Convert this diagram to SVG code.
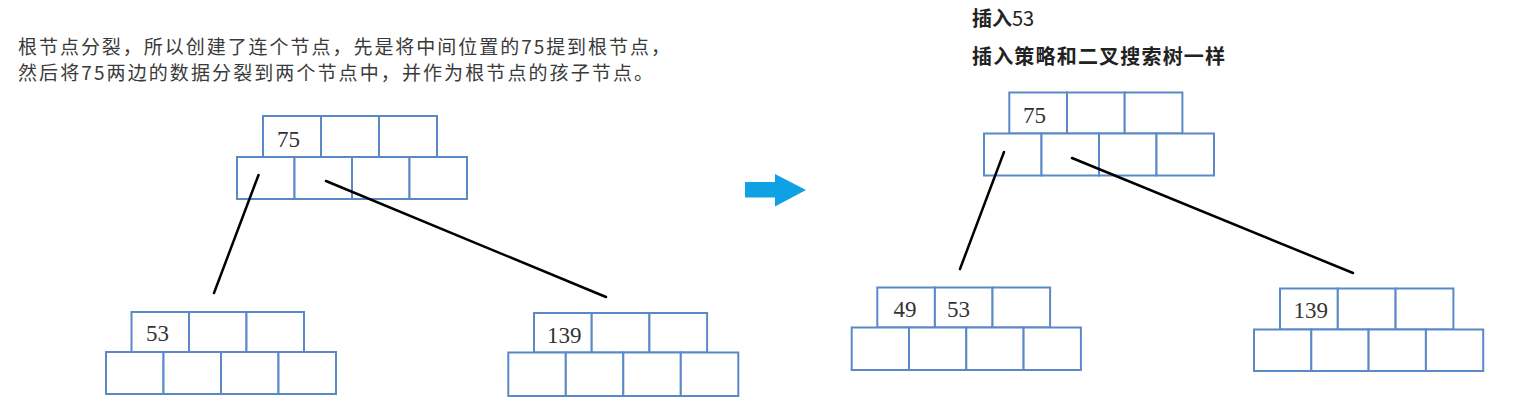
<svg xmlns="http://www.w3.org/2000/svg" width="1527" height="412" viewBox="0 0 1527 412">
<style>
.cell{fill:#ffffff;stroke:#5b89c8;stroke-width:2}
.num{font-family:"Liberation Serif","Times New Roman",serif;font-size:23px;fill:#333333}
.para{font-family:"Noto Sans CJK SC","Noto Sans",sans-serif;font-size:19px;fill:#3a3a3a}
.title{font-family:"Noto Sans CJK SC","Noto Sans",sans-serif;font-size:20px;fill:#222222}
.b{font-weight:bold}
.edge{stroke:#000000;stroke-width:2.5;fill:none;stroke-linecap:round}
</style>
<rect width="1527" height="412" fill="#ffffff"/>
<g id="texts">
<text class="para" x="18" y="54" textLength="652" lengthAdjust="spacing">根节点分裂，所以创建了连个节点，先是将中间位置的75提到根节点，</text>
<text class="para" x="18" y="80" textLength="635" lengthAdjust="spacing">然后将75两边的数据分裂到两个节点中，并作为根节点的孩子节点。</text>
<text class="title" x="972" y="26"><tspan class="b">插入</tspan>53</text>
<text class="title b" x="972" y="64" textLength="253" lengthAdjust="spacing">插入策略和二叉搜索树一样</text>
</g>
<g id="left-root">
<rect class="cell" x="263" y="116" width="58" height="41"/>
<rect class="cell" x="321" y="116" width="58" height="41"/>
<rect class="cell" x="379" y="116" width="58" height="41"/>
<rect class="cell" x="237" y="157" width="57.5" height="42"/>
<rect class="cell" x="294.5" y="157" width="57.5" height="42"/>
<rect class="cell" x="352" y="157" width="57.5" height="42"/>
<rect class="cell" x="409.5" y="157" width="57.5" height="42"/>
<text class="num" x="277" y="147">75</text>
</g>
<g id="left-child-53">
<rect class="cell" x="131.5" y="312" width="57.5" height="40"/>
<rect class="cell" x="189" y="312" width="57.5" height="40"/>
<rect class="cell" x="246.5" y="312" width="57.5" height="40"/>
<rect class="cell" x="106" y="352" width="57.5" height="42"/>
<rect class="cell" x="163.5" y="352" width="57.5" height="42"/>
<rect class="cell" x="221" y="352" width="57.5" height="42"/>
<rect class="cell" x="278.5" y="352" width="57.5" height="42"/>
<text class="num" x="146" y="341">53</text>
</g>
<g id="left-child-139">
<rect class="cell" x="534" y="313" width="57.7" height="39.5"/>
<rect class="cell" x="591.7" y="313" width="57.7" height="39.5"/>
<rect class="cell" x="649.4" y="313" width="57.7" height="39.5"/>
<rect class="cell" x="508.3" y="352.5" width="57.5" height="43.5"/>
<rect class="cell" x="565.8" y="352.5" width="57.5" height="43.5"/>
<rect class="cell" x="623.3" y="352.5" width="57.5" height="43.5"/>
<rect class="cell" x="680.8" y="352.5" width="57.5" height="43.5"/>
<text class="num" x="547" y="343">139</text>
</g>
<g id="arrow">
<polygon points="745,182 775,182 775,174 806,190 775,206.5 775,197.5 745,197.5" fill="#0ea1e4"/>
</g>
<g id="right-root">
<rect class="cell" x="1009.3" y="92.5" width="57.7" height="41"/>
<rect class="cell" x="1067" y="92.5" width="57.7" height="41"/>
<rect class="cell" x="1124.7" y="92.5" width="57.7" height="41"/>
<rect class="cell" x="984" y="133.5" width="57.5" height="42"/>
<rect class="cell" x="1041.5" y="133.5" width="57.5" height="42"/>
<rect class="cell" x="1099" y="133.5" width="57.5" height="42"/>
<rect class="cell" x="1156.5" y="133.5" width="57.5" height="42"/>
<text class="num" x="1023" y="122.5">75</text>
</g>
<g id="right-child-49-53">
<rect class="cell" x="877.3" y="287.5" width="57.6" height="40"/>
<rect class="cell" x="934.9" y="287.5" width="57.6" height="40"/>
<rect class="cell" x="992.5" y="287.5" width="57.6" height="40"/>
<rect class="cell" x="851.7" y="327.5" width="57.3" height="42.5"/>
<rect class="cell" x="909" y="327.5" width="57.3" height="42.5"/>
<rect class="cell" x="966.3" y="327.5" width="57.3" height="42.5"/>
<rect class="cell" x="1023.6" y="327.5" width="57.3" height="42.5"/>
<text class="num" x="893.5" y="317">49</text>
<text class="num" x="947" y="317">53</text>
</g>
<g id="right-child-139">
<rect class="cell" x="1280" y="288.5" width="57.8" height="41"/>
<rect class="cell" x="1337.8" y="288.5" width="57.8" height="41"/>
<rect class="cell" x="1395.6" y="288.5" width="57.8" height="41"/>
<rect class="cell" x="1254" y="329.5" width="57.3" height="41.5"/>
<rect class="cell" x="1311.3" y="329.5" width="57.3" height="41.5"/>
<rect class="cell" x="1368.6" y="329.5" width="57.3" height="41.5"/>
<rect class="cell" x="1425.9" y="329.5" width="57.3" height="41.5"/>
<text class="num" x="1293.5" y="317.5">139</text>
</g>
<g id="connectors">
<line class="edge" x1="258.5" y1="175" x2="214" y2="293"/>
<line class="edge" x1="326" y1="181" x2="606" y2="297"/>
<line class="edge" x1="1004" y1="152" x2="960" y2="269"/>
<line class="edge" x1="1072" y1="158" x2="1353" y2="273"/>
</g>
</svg>
